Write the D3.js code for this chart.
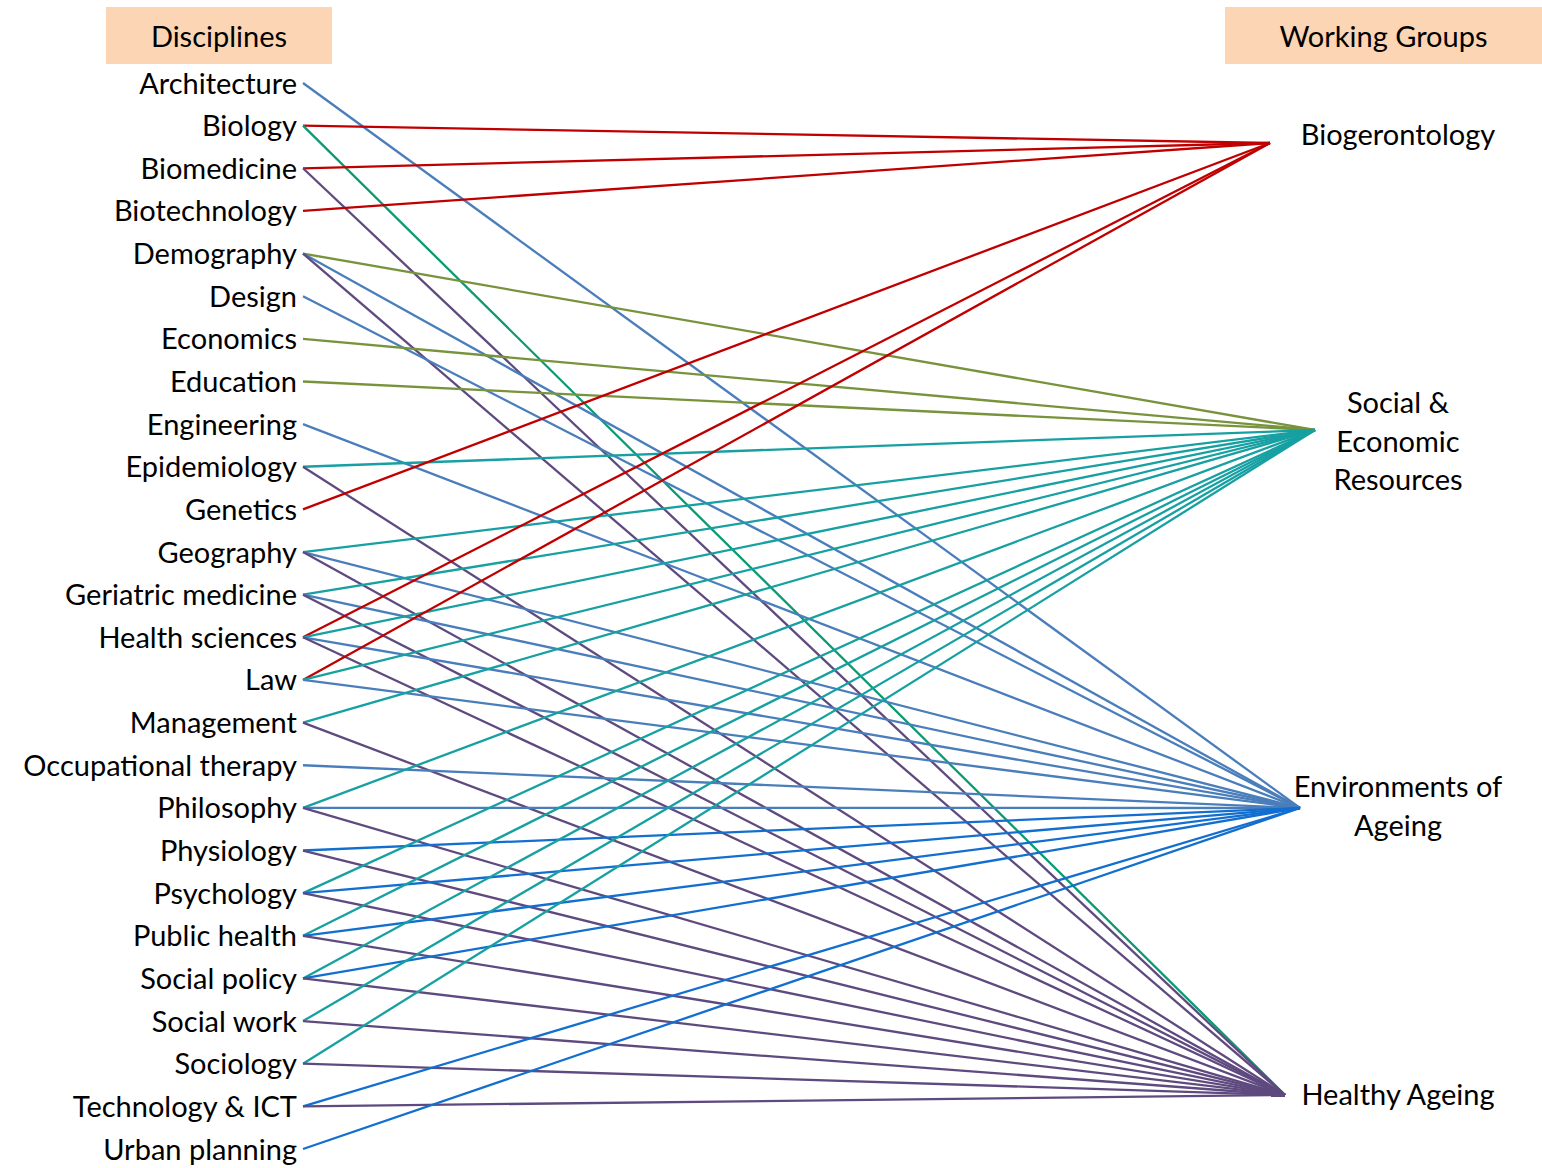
<!DOCTYPE html>
<html><head><meta charset="utf-8">
<script src="https://cdn.jsdelivr.net/npm/d3@7"></script>
<style>body{margin:0;background:#fff;} svg{display:block;}</style>
</head><body>
<svg id="c" width="1542" height="1168"></svg>
<script>
const disciplines = ["Architecture","Biology","Biomedicine","Biotechnology","Demography","Design","Economics","Education","Engineering","Epidemiology","Genetics","Geography","Geriatric medicine","Health sciences","Law","Management","Occupational therapy","Philosophy","Physiology","Psychology","Public health","Social policy","Social work","Sociology","Technology & ICT","Urban planning"];
const groups = ["Biogerontology","Social & Economic Resources","Environments of Ageing","Healthy Ageing"];
const groupLabelLines = [["Biogerontology"],["Social &","Economic","Resources"],["Environments of","Ageing"],["Healthy Ageing"]];
// links: [discipline, group, colour key]
const links = [
 ["Architecture","Environments of Ageing","env"],
 ["Biology","Biogerontology","bio"],
 ["Biology","Healthy Ageing","green"],
 ["Biomedicine","Biogerontology","bio"],
 ["Biomedicine","Healthy Ageing","ha"],
 ["Biotechnology","Biogerontology","bio"],
 ["Demography","Social & Economic Resources","olive"],
 ["Demography","Environments of Ageing","env"],
 ["Demography","Healthy Ageing","ha"],
 ["Design","Environments of Ageing","env"],
 ["Economics","Social & Economic Resources","olive"],
 ["Education","Social & Economic Resources","olive"],
 ["Engineering","Environments of Ageing","env"],
 ["Epidemiology","Social & Economic Resources","ser"],
 ["Epidemiology","Healthy Ageing","ha"],
 ["Genetics","Biogerontology","bio"],
 ["Geography","Social & Economic Resources","ser"],
 ["Geography","Environments of Ageing","env"],
 ["Geography","Healthy Ageing","ha"],
 ["Geriatric medicine","Social & Economic Resources","ser"],
 ["Geriatric medicine","Environments of Ageing","env"],
 ["Geriatric medicine","Healthy Ageing","ha"],
 ["Health sciences","Biogerontology","bio"],
 ["Health sciences","Social & Economic Resources","ser"],
 ["Health sciences","Environments of Ageing","env"],
 ["Health sciences","Healthy Ageing","ha"],
 ["Law","Biogerontology","bio"],
 ["Law","Social & Economic Resources","ser"],
 ["Law","Environments of Ageing","env"],
 ["Management","Social & Economic Resources","ser"],
 ["Management","Healthy Ageing","ha"],
 ["Occupational therapy","Environments of Ageing","env"],
 ["Philosophy","Social & Economic Resources","ser"],
 ["Philosophy","Environments of Ageing","env"],
 ["Philosophy","Healthy Ageing","ha"],
 ["Physiology","Environments of Ageing","env2"],
 ["Physiology","Healthy Ageing","ha"],
 ["Psychology","Social & Economic Resources","ser"],
 ["Psychology","Environments of Ageing","env2"],
 ["Psychology","Healthy Ageing","ha"],
 ["Public health","Social & Economic Resources","ser"],
 ["Public health","Environments of Ageing","env2"],
 ["Public health","Healthy Ageing","ha"],
 ["Social policy","Social & Economic Resources","ser"],
 ["Social policy","Environments of Ageing","env2"],
 ["Social policy","Healthy Ageing","ha"],
 ["Social work","Social & Economic Resources","ser"],
 ["Social work","Healthy Ageing","ha"],
 ["Sociology","Social & Economic Resources","ser"],
 ["Sociology","Healthy Ageing","ha"],
 ["Technology & ICT","Environments of Ageing","env2"],
 ["Technology & ICT","Healthy Ageing","ha"],
 ["Urban planning","Environments of Ageing","env2"]
];
const palette = {bio:"#c00000", olive:"#77933c", ser:"#17a0a2", env:"#4a7ebb", env2:"#126fcf", ha:"#5f4a7f", green:"#0c9a72"};

const svg = d3.select("#c");
const font = "Lato, 'Open Sans', sans-serif";

const yL = d3.scalePoint().domain(disciplines).range([83, 1149]);
const yR = d3.scaleOrdinal().domain(groups).range([143, 430, 808, 1095]);
const xR = d3.scaleOrdinal().domain(groups).range([1270, 1315, 1300, 1285]);
const labelY = d3.scaleOrdinal().domain(groups).range([133, 440, 805, 1093]);
const xL = 303;

// header boxes
const headers = [{t:"Disciplines", x:106, w:226}, {t:"Working Groups", x:1225, w:317}];
svg.selectAll("g.hdr").data(headers).join("g").attr("class","hdr").each(function(d){
  const g = d3.select(this);
  g.append("rect").attr("x",d.x).attr("y",7).attr("width",d.w).attr("height",57).attr("fill","#fcd5b4");
  g.append("text").attr("x",d.x+d.w/2).attr("y",35).attr("text-anchor","middle").attr("dominant-baseline","central")
   .attr("font-family",font).attr("font-size",29).attr("fill","#000").text(d.t);
});

// links
svg.append("g").selectAll("line").data(links).join("line")
  .attr("x1",xL).attr("y1",d=>yL(d[0]))
  .attr("x2",d=>xR(d[1])).attr("y2",d=>yR(d[1]))
  .attr("stroke",d=>palette[d[2]]).attr("stroke-width",2.3).attr("fill","none");

// discipline labels
svg.append("g").selectAll("text").data(disciplines).join("text")
  .attr("x",297).attr("y",d=>yL(d)-1).attr("text-anchor","end").attr("dominant-baseline","central")
  .attr("font-family",font).attr("font-size",29).attr("fill","#000").text(d=>d);

// group labels
const lh = 38.5;
svg.append("g").selectAll("text").data(groups).join("text")
  .attr("text-anchor","middle").attr("font-family",font).attr("font-size",29).attr("fill","#000")
  .each(function(d,i){
    const lines = groupLabelLines[i];
    const t = d3.select(this);
    const y0 = labelY(d) - (lines.length-1)*lh/2;
    lines.forEach((s,j)=>t.append("tspan").attr("x",1398).attr("y",y0+j*lh).attr("dominant-baseline","central").text(s));
  });
</script>
</body></html>
